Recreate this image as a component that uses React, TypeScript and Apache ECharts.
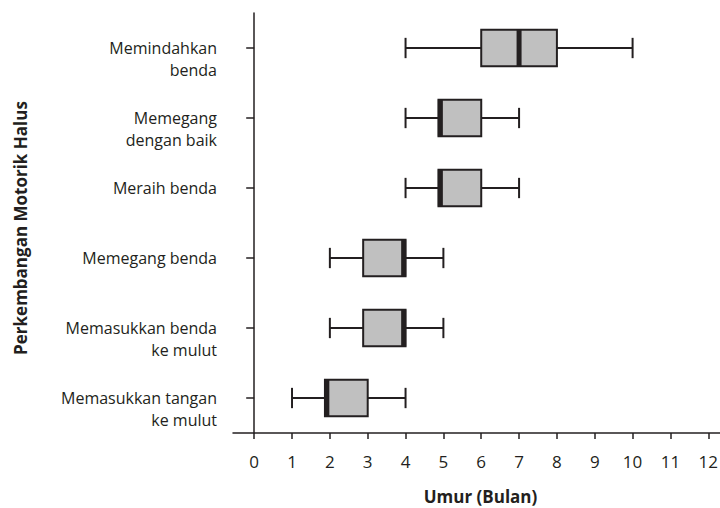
import React, { useEffect, useRef } from "react";
import * as echarts from "echarts";

// Categories listed bottom to top (category axis grows upward)
const categories = [
  "Memasukkan tangan\nke mulut",
  "Memasukkan benda\nke mulut",
  "Memegang benda",
  "Meraih benda",
  "Memegang\ndengan baik",
  "Memindahkan\nbenda",
];
const minValues = [1, 2, 2, 4, 4, 4];
const q1Values = [1.87, 2.88, 2.88, 4.87, 4.87, 6];
const medianValues = [1.92, 3.95, 3.95, 4.92, 4.92, 7];
const q3Values = [3, 4, 4, 6, 6, 8];
const maxValues = [4, 5, 5, 7, 7, 10];
const xTickValues = [0, 1, 2, 3, 4, 5, 6, 7, 8, 9, 10, 11, 12];
const xAxisMin = -0.56;
const xAxisMax = 12.31;
const xAxisName = "Umur (Bulan)";
const yAxisName = "Perkembangan Motorik Halus";

const DARK = "#231f20";
const BOX_FILL = "#c0c0c0";
const FONT = "'Open Sans', sans-serif";

export default function App() {
  const ref = useRef<HTMLDivElement>(null);

  useEffect(() => {
    if (!ref.current) return;
    const chart = echarts.init(ref.current, undefined, { renderer: "svg" });
    const data = categories.map((_, i) => [
      i,
      minValues[i],
      q1Values[i],
      medianValues[i],
      q3Values[i],
      maxValues[i],
    ]);

    const option: any = {
      animation: false,
      backgroundColor: "#ffffff",
      grid: {
        left: 233,
        right: 0,
        top: 13,
        bottom: 75,
        containLabel: false,
        outerBoundsMode: "none",
      },
      xAxis: {
        type: "value",
        min: xAxisMin,
        max: xAxisMax,
        name: xAxisName,
        nameLocation: "middle",
        nameGap: 55,
        nameTextStyle: {
          fontFamily: FONT,
          fontWeight: "bold",
          fontSize: 17,
          lineHeight: 17,
          color: DARK,
          padding: [0, 0, 0, 8],
        },
        splitLine: { show: false },
        axisLine: { show: true, lineStyle: { color: DARK, width: 1.5 } },
        axisTick: {
          show: true,
          customValues: xTickValues,
          length: 6,
          lineStyle: { color: DARK, width: 1.5 },
        },
        axisLabel: {
          customValues: xTickValues,
          fontFamily: FONT,
          fontSize: 17,
          color: DARK,
          margin: 20,
        },
      },
      yAxis: {
        type: "category",
        data: categories,
        boundaryGap: true,
        name: yAxisName,
        nameLocation: "middle",
        nameRotate: 90,
        nameGap: 204,
        nameTextStyle: {
          fontFamily: FONT,
          fontWeight: "bold",
          fontSize: 17,
          color: DARK,
          padding: [0, 10, 0, 0],
        },
        splitLine: { show: false },
        axisLine: { show: true, lineStyle: { color: DARK, width: 1.5 } },
        axisTick: {
          show: true,
          alignWithLabel: true,
          length: 8,
          lineStyle: { color: DARK, width: 1.5 },
        },
        axisLabel: {
          fontFamily: FONT,
          fontSize: 16,
          color: DARK,
          margin: 16,
          lineHeight: 22,
          formatter: (v: string) => (v.indexOf("\n") >= 0 ? "\n" + v : v),
        },
      },
      series: [
        {
          type: "custom",
          data,
          encode: { x: [1, 2, 3, 4, 5], y: 0 },
          renderItem: (params: any, api: any) => {
            const cat = api.value(0);
            const pMin = api.coord([api.value(1), cat]);
            const pQ1 = api.coord([api.value(2), cat]);
            const pMed = api.coord([api.value(3), cat]);
            const pQ3 = api.coord([api.value(4), cat]);
            const pMax = api.coord([api.value(5), cat]);
            const band = api.size([0, 1])[1];
            const boxH = band * 0.524;
            const capH = band * 0.29;
            const cy = pMin[1];
            const ls = { stroke: DARK, lineWidth: 2 };
            return {
              type: "group",
              children: [
                { type: "line", shape: { x1: pMin[0], y1: cy, x2: pQ1[0], y2: cy }, style: ls },
                { type: "line", shape: { x1: pQ3[0], y1: cy, x2: pMax[0], y2: cy }, style: ls },
                { type: "line", shape: { x1: pMin[0], y1: cy - capH / 2, x2: pMin[0], y2: cy + capH / 2 }, style: ls },
                { type: "line", shape: { x1: pMax[0], y1: cy - capH / 2, x2: pMax[0], y2: cy + capH / 2 }, style: ls },
                {
                  type: "rect",
                  shape: { x: pQ1[0], y: cy - boxH / 2, width: pQ3[0] - pQ1[0], height: boxH },
                  style: { fill: BOX_FILL, stroke: DARK, lineWidth: 2 },
                },
                {
                  type: "rect",
                  shape: { x: pMed[0] - 2.5, y: cy - boxH / 2, width: 5, height: boxH },
                  style: { fill: DARK },
                },
              ],
            };
          },
        },
      ],
    };
    chart.setOption(option);
    return () => chart.dispose();
  }, []);

  return (
    <div
      ref={ref}
      style={{ position: "absolute", left: 0, top: 0, width: 720, height: 508 }}
    />
  );
}
